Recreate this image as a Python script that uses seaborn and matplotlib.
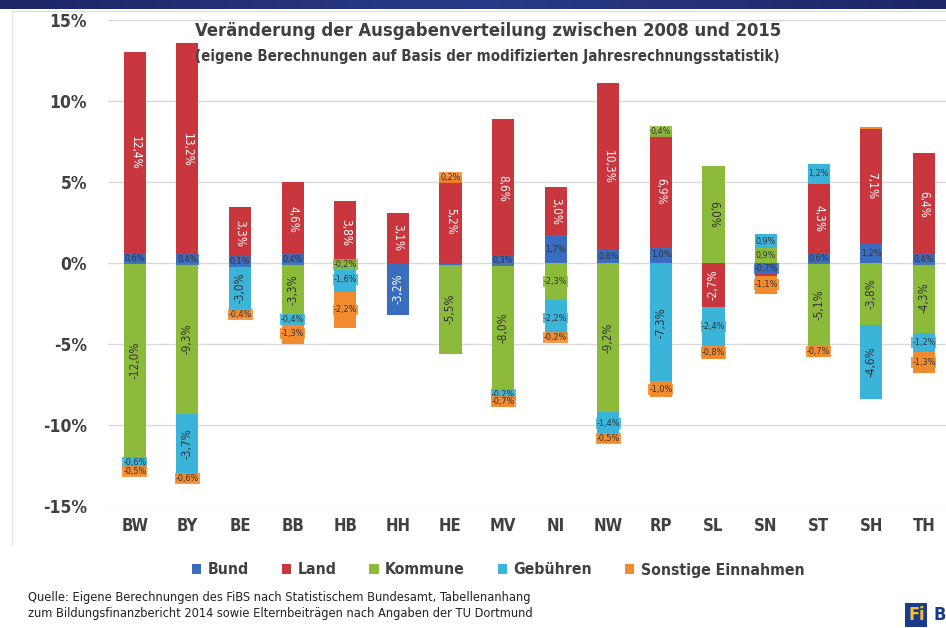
import numpy as np
import pandas as pd
import matplotlib
matplotlib.use("Agg")
import matplotlib.pyplot as plt
import seaborn as sns
from matplotlib.patches import Patch
from matplotlib.lines import Line2D
from matplotlib.colors import LinearSegmentedColormap
from matplotlib import font_manager as fm

# ---------------- data ----------------
states = ["BW", "BY", "BE", "BB", "HB", "HH", "HE", "MV", "NI", "NW", "RP", "SL", "SN", "ST", "SH", "TH"]
series = ["Bund", "Land", "Kommune", "Gebühren", "Sonstige Einnahmen"]
bund      = [0.6, 0.4, 0.15, 0.4, 0.0, -3.2, -0.1, 0.3, 1.7, 0.8, 1.0, 0.0, -0.7, 0.6, 1.2, 0.4]
land      = [12.4, 13.2, 3.3, 4.6, 3.8, 3.1, 5.2, 8.6, 3.0, 10.3, 6.9, -2.7, -0.1, 4.3, 7.1, 6.4]
kommune   = [-12.0, -9.3, 0.0, -3.3, -0.2, 0.0, -5.5, -8.0, -2.3, -9.2, 0.4, 6.0, 0.9, -5.1, -3.8, -4.3]
gebuehren = [-0.6, -3.7, -3.0, -0.4, -1.6, 0.0, 0.0, -0.2, -2.2, -1.4, -7.3, -2.4, 0.9, 1.2, -4.6, -1.2]
sonstige  = [-0.5, -0.6, -0.4, -1.3, -2.2, 0.0, 0.2, -0.7, -0.2, -0.5, -1.0, -0.8, -1.1, -0.7, 0.1, -1.3]
yticks = [15, 10, 5, 0, -5, -10, -15]
title = "Veränderung der Ausgabenverteilung zwischen 2008 und 2015"
subtitle = "(eigene Berechnungen auf Basis der modifizierten Jahresrechnungsstatistik)"
source = ("Quelle: Eigene Berechnungen des FiBS nach Statistischem Bundesamt, Tabellenanhang\n"
          "zum Bildungsfinanzbericht 2014 sowie Elternbeiträgen nach Angaben der TU Dortmund")

colors = ["#3A6DC0", "#C9363D", "#8CBB3C", "#3BB4DA", "#F28B2E"]
label_colors = ["white", "white", "#333333", "#333333", "#333333"]

values = np.array([bund, land, kommune, gebuehren, sonstige])

# ---------------- style ----------------
sns.set_theme(style="white")
names = {f.name for f in fm.fontManager.ttflist}
fam = [n for n in ["Liberation Sans Narrow", "DejaVu Sans"] if n in names] or ["DejaVu Sans"]
plt.rcParams["font.family"] = fam
plt.rcParams["font.stretch"] = "condensed"

fig = plt.figure(figsize=(9.46, 6.28), dpi=100)
W, H = 946, 628
ax = fig.add_axes([108 / W, 1 - 506 / H, 1 - 108 / W, (506 - 20) / H])

pos = np.clip(values, 0, None)
neg = np.clip(values, None, 0)
pos_cum = np.cumsum(pos, axis=0)
neg_cum = np.cumsum(neg, axis=0)

# layered cumulative bars (seaborn) - drawn from outermost to innermost
for cum in (pos_cum, neg_cum):
    for k in range(len(series) - 1, -1, -1):
        df = pd.DataFrame({"state": states, "val": cum[k]})
        sns.barplot(data=df, x="state", y="val", color=colors[k], saturation=1,
                    width=0.42, errorbar=None, linewidth=0, ax=ax, order=states)

def fmt(v):
    return f"{v:.1f}%".replace(".", ",")

for k in range(len(series)):
    for i in range(len(states)):
        v = values[k, i]
        if abs(v) < 0.15:
            continue
        if v > 0:
            base = pos_cum[k - 1, i] if k > 0 else 0.0
        else:
            base = neg_cum[k - 1, i] if k > 0 else 0.0
        yc = base + v / 2
        if abs(v) >= 2.5:
            ax.text(i, yc, fmt(v), rotation=270 if v > 0 else 90, ha="center", va="center",
                    fontsize=8.5, color=label_colors[k])
        else:
            ax.text(i, yc, fmt(v), ha="center", va="center", fontsize=6.5, color="#333333",
                    bbox=dict(boxstyle="square,pad=0.1", fc=colors[k], ec="none", alpha=0.85))

ax.set_xlim(-0.51, 15.42)
ax.set_ylim(-15, 15)
ax.set_yticks(yticks)
ax.set_yticklabels([f"{t}%" for t in yticks], fontsize=12.5, fontweight="bold", color="#404040")
ax.set_xticks(range(len(states)))
ax.set_xticklabels(states, fontsize=12, fontweight="bold", color="#404040")
ax.tick_params(axis="y", length=0, pad=15)
ax.tick_params(axis="x", length=0, pad=8)
ax.set_xlabel("")
ax.set_ylabel("")
ax.grid(axis="y", color="#d9d9d9", linewidth=1)
ax.set_axisbelow(True)
for s in ax.spines.values():
    s.set_visible(False)

# title
fig.text(488 / W, 1 - 31 / H, title, ha="center", va="center", fontsize=13.2,
         fontweight="bold", color="#404040")
fig.text(487 / W, 1 - 57 / H, subtitle, ha="center", va="center", fontsize=10.8,
         fontweight="bold", color="#404040")

# legend
handles = [Patch(facecolor=c, edgecolor="none", label=s) for c, s in zip(colors, series)]
fig.legend(handles=handles, loc="center", bbox_to_anchor=(498 / W, 1 - 570 / H), ncol=5,
           frameon=False, handlelength=0.6, handleheight=0.6,
           handletextpad=0.4, columnspacing=2.1, labelcolor="#404040",
           prop={"size": 11.3, "weight": "bold", "stretch": "condensed"})

# source
fig.text(28 / W, 1 - 605 / H, source, ha="left", va="center", fontsize=9.2,
         color="#222222", linespacing=1.3)

# header bar
hax = fig.add_axes([0, 1 - 9 / H, 1, 9 / H])
grad = np.linspace(0, 1, 256).reshape(1, -1)
cmap = LinearSegmentedColormap.from_list("hdr", ["#1B2766", "#2A3A88", "#1B2766"])
hax.imshow(grad, aspect="auto", cmap=cmap)
hax.axis("off")

# frame lines
fig.add_artist(Line2D([12 / W, 1], [1 - 11 / H, 1 - 11 / H], color="#dddddd", lw=1))
fig.add_artist(Line2D([12 / W, 12 / W], [1 - 11 / H, 1 - 545 / H], color="#e6e6e6", lw=1))

# logo
fig.text(908 / W, 1 - 615 / H, "Fi", ha="left", va="center", fontsize=13, fontweight="bold",
         color="#F2C230", bbox=dict(boxstyle="square,pad=0.15", fc="#1B3A8C", ec="none"))
fig.text(933 / W, 1 - 615 / H, "B", ha="left", va="center", fontsize=13, fontweight="bold",
         color="#1B3A8C")

fig.savefig("out.png", dpi=100)
